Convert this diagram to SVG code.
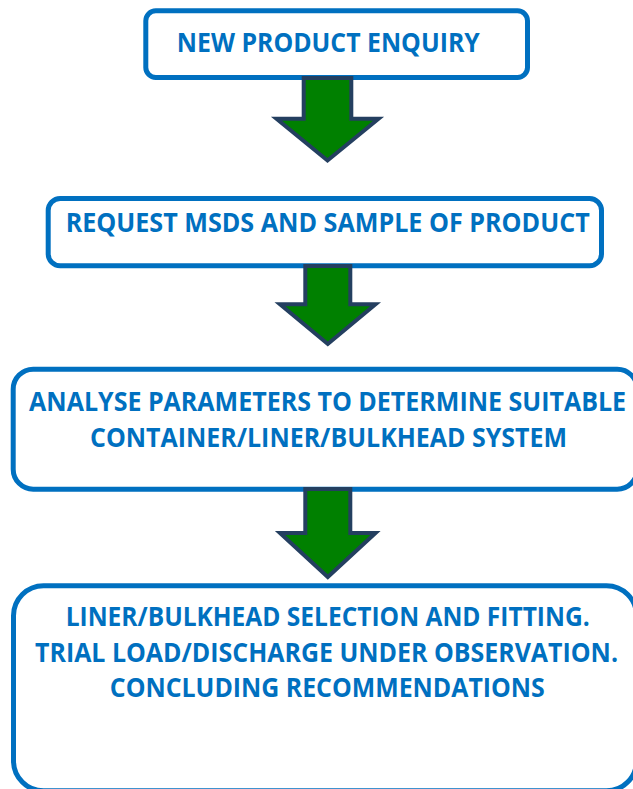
<svg xmlns="http://www.w3.org/2000/svg" width="633" height="789" viewBox="0 0 633 789">
<style>
.box{fill:#fff;stroke:#0070C0;stroke-width:5}
.lbl{font-family:"Open Sans","Liberation Sans",sans-serif;font-weight:700;font-size:26px;fill:#0070C0;text-anchor:middle}
.arr{fill:#008000;stroke:#243F60;stroke-width:4;stroke-linejoin:miter}
</style>
<rect width="633" height="789" fill="#fff"/>
<g id="node1">
<rect class="box" x="145.8" y="10.8" width="381.7" height="66.7" rx="10"/>
<text class="lbl" x="328.3" y="52.3" textLength="303" lengthAdjust="spacingAndGlyphs">NEW PRODUCT ENQUIRY</text>
</g>
<g id="node2">
<rect class="box" x="48.2" y="198.5" width="553.3" height="67.3" rx="12"/>
<text class="lbl" x="327.7" y="232.3" textLength="524" lengthAdjust="spacingAndGlyphs">REQUEST MSDS AND SAMPLE OF PRODUCT</text>
</g>
<g id="node3">
<rect class="box" x="13.2" y="369.2" width="624" height="120" rx="20"/>
<text class="lbl" x="327.6" y="410.7" textLength="597" lengthAdjust="spacingAndGlyphs">ANALYSE PARAMETERS TO DETERMINE SUITABLE</text>
<text class="lbl" x="328.5" y="446.7" textLength="477" lengthAdjust="spacingAndGlyphs">CONTAINER/LINER/BULKHEAD SYSTEM</text>
</g>
<g id="node4">
<rect class="box" x="13.5" y="585.8" width="623" height="205" rx="30"/>
<text class="lbl" x="327.7" y="625.7" textLength="524" lengthAdjust="spacingAndGlyphs">LINER/BULKHEAD SELECTION AND FITTING.</text>
<text class="lbl" x="326.5" y="661.7" textLength="583" lengthAdjust="spacingAndGlyphs">TRIAL LOAD/DISCHARGE UNDER OBSERVATION.</text>
<text class="lbl" x="327.3" y="696.7" textLength="435" lengthAdjust="spacingAndGlyphs">CONCLUDING RECOMMENDATIONS</text>
</g>
<g id="connectors">
<polygon class="arr" points="303.7,78 351.3,78 351.3,118.7 378.5,118.7 327.5,160.5 276.5,118.7 303.7,118.7"/>
<polygon class="arr" points="305.3,266 350.3,266 350.3,304.3 375.5,304.3 327.8,344 280,304.3 305.3,304.3"/>
<polygon class="arr" points="305.3,489 350.3,489 350.3,533 375.5,533 327.8,577 280,533 305.3,533"/>
</g>
</svg>
